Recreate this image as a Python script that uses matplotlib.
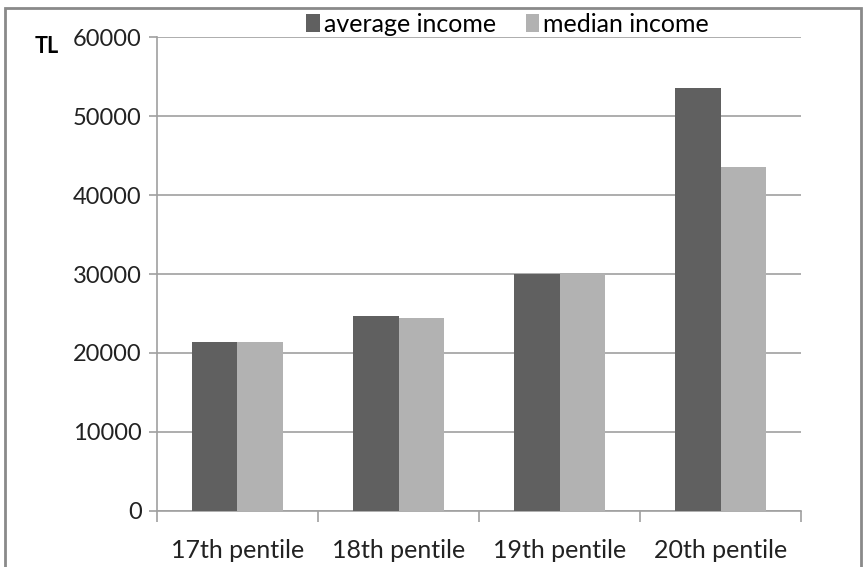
import matplotlib
matplotlib.use("Agg")
import numpy as np
import matplotlib.pyplot as plt
from matplotlib.patches import Rectangle

categories = ["17th pentile", "18th pentile", "19th pentile", "20th pentile"]
average_income = [21400, 24700, 30000, 53600]
median_income = [21400, 24400, 30000, 43600]
y_ticks = [0, 10000, 20000, 30000, 40000, 50000, 60000]

DARK = "#606060"
LIGHT = "#b2b2b2"
GRID = "#a0a0a0"

plt.rcParams["font.family"] = ["Lato", "DejaVu Sans"]

fig = plt.figure(figsize=(8.63, 5.67), dpi=100)
ax = fig.add_axes([0.1819, 0.0988, 0.7463, 0.8359])

# frame around the whole chart area
fig.patches.append(Rectangle((0.006, -0.05), 0.992, 1.036, transform=fig.transFigure,
                             fill=False, edgecolor="#8a8a8a", linewidth=2))

x = np.arange(len(categories))
w = 0.283
ax.bar(x - w / 2, average_income, w, color=DARK, label="average income", zorder=3)
ax.bar(x + w / 2, median_income, w, color=LIGHT, label="median income", zorder=3)

ax.set_xlim(-0.5, len(categories) - 0.5)
ax.set_ylim(0, 60000)
ax.set_yticks(y_ticks)
ax.set_yticklabels([str(v) for v in y_ticks], fontsize=17, color="#222222")
ax.yaxis.grid(True, color=GRID, linewidth=1.2, zorder=0)

# category ticks sit on the group boundaries, labels in the middle
ax.set_xticks(np.arange(len(categories) + 1) - 0.5)
ax.set_xticklabels([])
ax.set_xticks(x, minor=True)
ax.set_xticklabels(categories, minor=True, fontsize=18, color="#222222")
ax.tick_params(axis="x", which="minor", length=0, pad=20)
ax.tick_params(axis="x", which="major", length=8, color=GRID, width=1.2)
ax.tick_params(axis="y", length=6, color=GRID, width=1.2, pad=5)

for side in ["top", "right"]:
    ax.spines[side].set_visible(False)
for side in ["left", "bottom"]:
    ax.spines[side].set_color(GRID)
    ax.spines[side].set_linewidth(1.2)

fig.text(0.040, 0.918, "TL", fontsize=15.5, fontweight="bold", ha="left", va="center")

fig.legend(loc="center", bbox_to_anchor=(0.588, 0.957), ncol=2, frameon=False,
           fontsize=18, handlelength=0.55, handleheight=0.75, handletextpad=0.15,
           columnspacing=1.2, borderaxespad=0)

fig.savefig("out.png", dpi=100)
